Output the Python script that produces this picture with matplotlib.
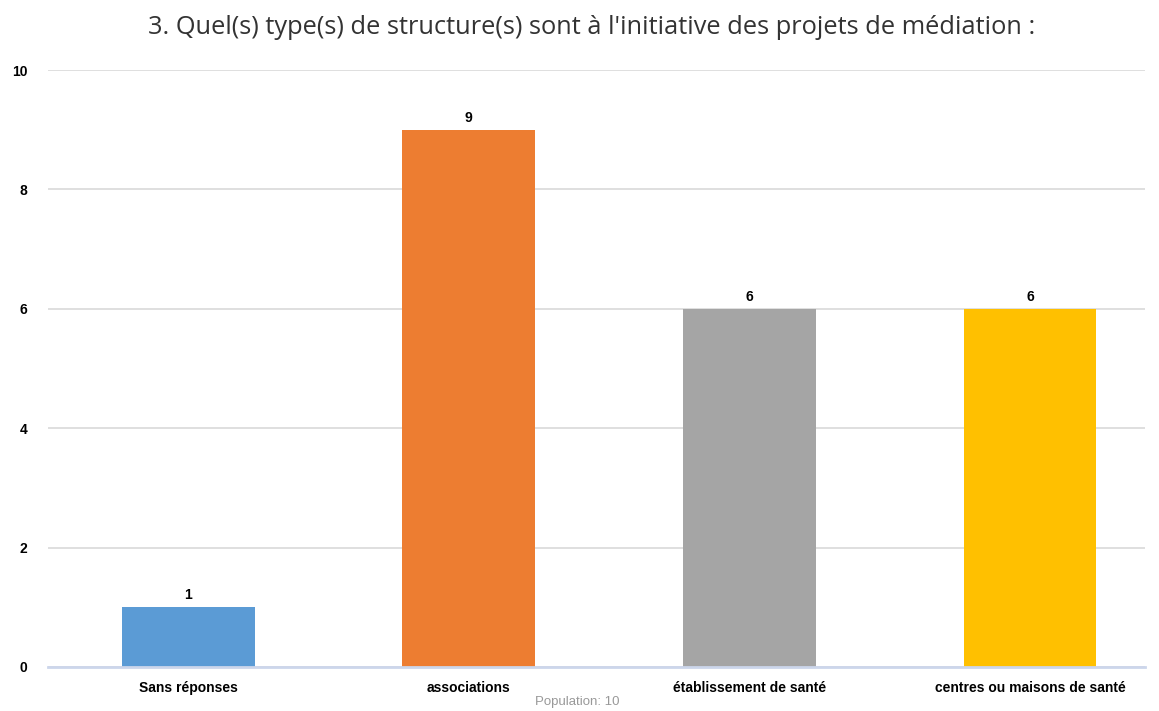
import matplotlib
matplotlib.use("Agg")
import matplotlib.pyplot as plt
from matplotlib import font_manager as fm

categories = ["Sans réponses", "associations", "établissement de santé", "centres ou maisons de santé"]
values = [1, 9, 6, 6]
colors = ["#5b9bd5", "#ed7d31", "#a5a5a5", "#ffc000"]
yticks = [0, 2, 4, 6, 8, 10]
title = "3. Quel(s) type(s) de structure(s) sont à l'initiative des projets de médiation :"
footer = "Population: 10"

names = {f.name for f in fm.fontManager.ttflist}
narrow = "Liberation Sans Narrow" if "Liberation Sans Narrow" in names else "Liberation Sans"

fig = plt.figure(figsize=(11.59, 7.11), dpi=100)
ax = fig.add_axes([48/1159, 1-667/711, (1145-48)/1159, (667-70)/711])

x = list(range(len(categories)))
bars = ax.bar(x, values, width=0.473, color=colors, zorder=3)
for xi, v in zip(x, values):
    ax.annotate(str(v), (xi, v), xytext=(0, 3.5), textcoords="offset points",
                ha="center", va="bottom", fontsize=10, fontweight="bold",
                family=narrow, color="#000000")

ax.set_xlim(-0.5, 3.41)
ax.set_ylim(0, 10)
ax.set_yticks(yticks)
ax.set_yticklabels([str(t) for t in yticks], fontsize=10, fontweight="bold", family=narrow)
ax.set_xticks(x)
ax.set_xticklabels(categories, fontsize=10, fontweight="bold", family=narrow)
ax.tick_params(axis="both", length=0, colors="#000000")
ax.tick_params(axis="y", pad=15)
ax.tick_params(axis="x", pad=10)
ax.grid(axis="y", color="#d9d9d9", linewidth=1.2, zorder=0)
for s in ["top", "right", "left"]:
    ax.spines[s].set_visible(False)
ax.spines["bottom"].set_color("#ccd6eb")
ax.spines["bottom"].set_linewidth(2)
ax.spines["bottom"].set_zorder(4)

fig.text(592/1159, 1-27/711, title, ha="center", va="center", fontsize=18.3,
         family="Open Sans", color="#333333")
fig.text(577/1159, 1-702/711, footer, ha="center", va="center", fontsize=9.5,
         family="Liberation Sans", color="#999999")

fig.savefig("out.png", dpi=100)
